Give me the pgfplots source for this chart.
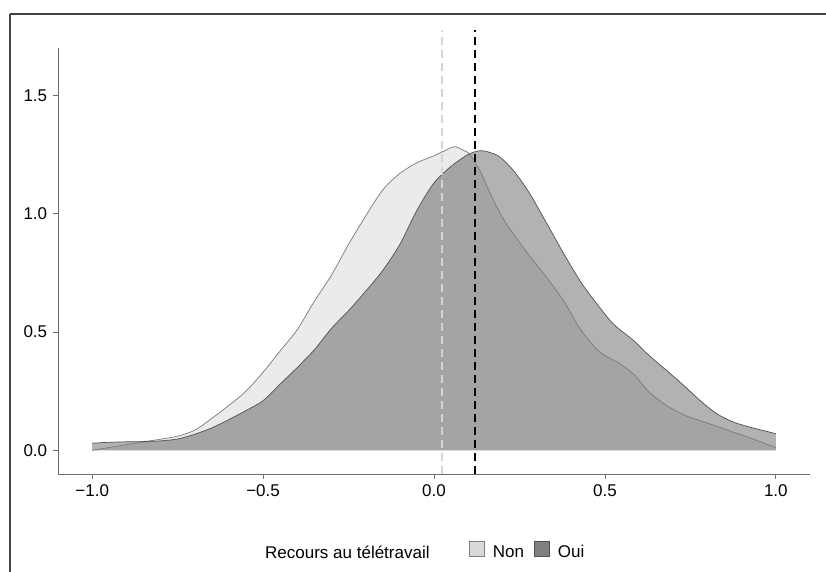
\documentclass[border=0pt]{standalone}
\usepackage{fontspec}
\setmainfont{Liberation Sans}
\usepackage{pgfplots}
\usepackage{pgfplotstable}
\pgfplotsset{compat=1.18}

\definecolor{nonfill}{HTML}{EBEBEB}
\definecolor{nonline}{HTML}{7A7A7A}
\definecolor{ouiline}{HTML}{505050}
\definecolor{axisgrey}{HTML}{6E6E6E}
\definecolor{framegrey}{HTML}{444444}

% density, no telework
\pgfplotstableread{
x y
-1.00 0.000
-0.95 0.012
-0.90 0.024
-0.85 0.036
-0.80 0.047
-0.75 0.060
-0.70 0.085
-0.65 0.135
-0.60 0.190
-0.55 0.250
-0.50 0.330
-0.45 0.420
-0.40 0.510
-0.35 0.630
-0.30 0.740
-0.25 0.870
-0.20 0.990
-0.15 1.100
-0.10 1.170
-0.05 1.215
0.00 1.245
0.03 1.265
0.06 1.283
0.09 1.265
0.105 1.250
0.135 1.180
0.16 1.100
0.183 1.030
0.21 0.960
0.232 0.915
0.28 0.820
0.33 0.730
0.38 0.630
0.42 0.530
0.45 0.470
0.485 0.415
0.52 0.385
0.545 0.365
0.585 0.320
0.63 0.245
0.68 0.190
0.73 0.150
0.78 0.125
0.83 0.100
0.875 0.077
0.92 0.055
0.96 0.033
1.00 0.012
}\nondata

% density, telework
\pgfplotstableread{
x y
-1.00 0.030
-0.95 0.034
-0.90 0.036
-0.85 0.037
-0.80 0.040
-0.75 0.048
-0.70 0.068
-0.65 0.095
-0.60 0.130
-0.55 0.168
-0.50 0.210
-0.45 0.280
-0.40 0.350
-0.35 0.425
-0.30 0.515
-0.25 0.590
-0.20 0.672
-0.15 0.760
-0.10 0.870
-0.05 1.014
0.00 1.130
0.05 1.200
0.10 1.250
0.135 1.266
0.165 1.258
0.193 1.239
0.232 1.183
0.28 1.085
0.33 0.958
0.38 0.830
0.43 0.710
0.476 0.620
0.524 0.535
0.583 0.465
0.63 0.400
0.68 0.338
0.73 0.275
0.778 0.211
0.827 0.155
0.875 0.120
0.924 0.098
0.96 0.085
1.00 0.070
}\ouidata

\begin{document}
\fontsize{17}{20}\selectfont
\begin{tikzpicture}
\useasboundingbox (0,0) rectangle (826pt,572pt);
\draw[framegrey, line width=2pt] (10pt,558pt) -- (826pt,558pt);
\draw[framegrey, line width=1.5pt] (10pt,558pt) -- (10pt,0pt);

\begin{axis}[
    at={(58pt,98pt)}, anchor=south west,
    scale only axis,
    width=752pt, height=426pt,
    xmin=-1.1, xmax=1.1,
    ymin=-0.1, ymax=1.7,
    axis x line=bottom, axis y line=left,
    axis line style={-, draw=axisgrey, line width=0.8pt},
    xtick={-1,-0.5,0,0.5,1},
    xticklabels={−1.0,−0.5,0.0,0.5,1.0},
    ytick={0,0.5,1,1.5},
    yticklabels={0.0,0.5,1.0,1.5},
    tick align=outside,
    major tick length=5pt,
    tick style={draw=axisgrey, line width=0.8pt},
    clip=false,
    legend columns=2,
    legend style={at={(0.5465,-0.182)}, anchor=west, draw=none, fill=none,
        inner sep=0pt,
        /tikz/every odd column/.append style={column sep=6pt},
        /tikz/every even column/.append style={column sep=8pt}},
    legend image code/.code={\draw[#1] (0pt,-3pt) rectangle (15pt,12pt);},
]
\addplot[fill=nonfill, draw=none, smooth, tension=0.5, forget plot] table {\nondata} \closedcycle;
\addplot[fill=black, fill opacity=0.3, draw=none, smooth, tension=0.5, forget plot] table {\ouidata} \closedcycle;
\addplot[nonline, line width=0.7pt, smooth, tension=0.5, forget plot] table {\nondata};
\addplot[ouiline, line width=0.7pt, smooth, tension=0.5, forget plot] table {\ouidata};

\addplot[color={rgb,255:red,212;green,212;blue,212}, line width=2.2pt, dash pattern=on 8pt off 5pt, forget plot]
    coordinates {(0.023,-0.1) (0.023,1.775)};
\addplot[black, line width=2.2pt, dash pattern=on 8pt off 5pt, forget plot]
    coordinates {(0.12,-0.1) (0.12,1.775)};

\addlegendimage{fill={rgb,255:red,217;green,217;blue,217}, draw=gray, line width=0.8pt}
\addlegendentry{Non}
\addlegendimage{fill={rgb,255:red,128;green,128;blue,128}, draw=ouiline, line width=0.8pt}
\addlegendentry{Oui}
\end{axis}

\node[anchor=base west, inner sep=0pt] at (265pt,13pt) {Recours au télétravail};
\end{tikzpicture}
\end{document}
